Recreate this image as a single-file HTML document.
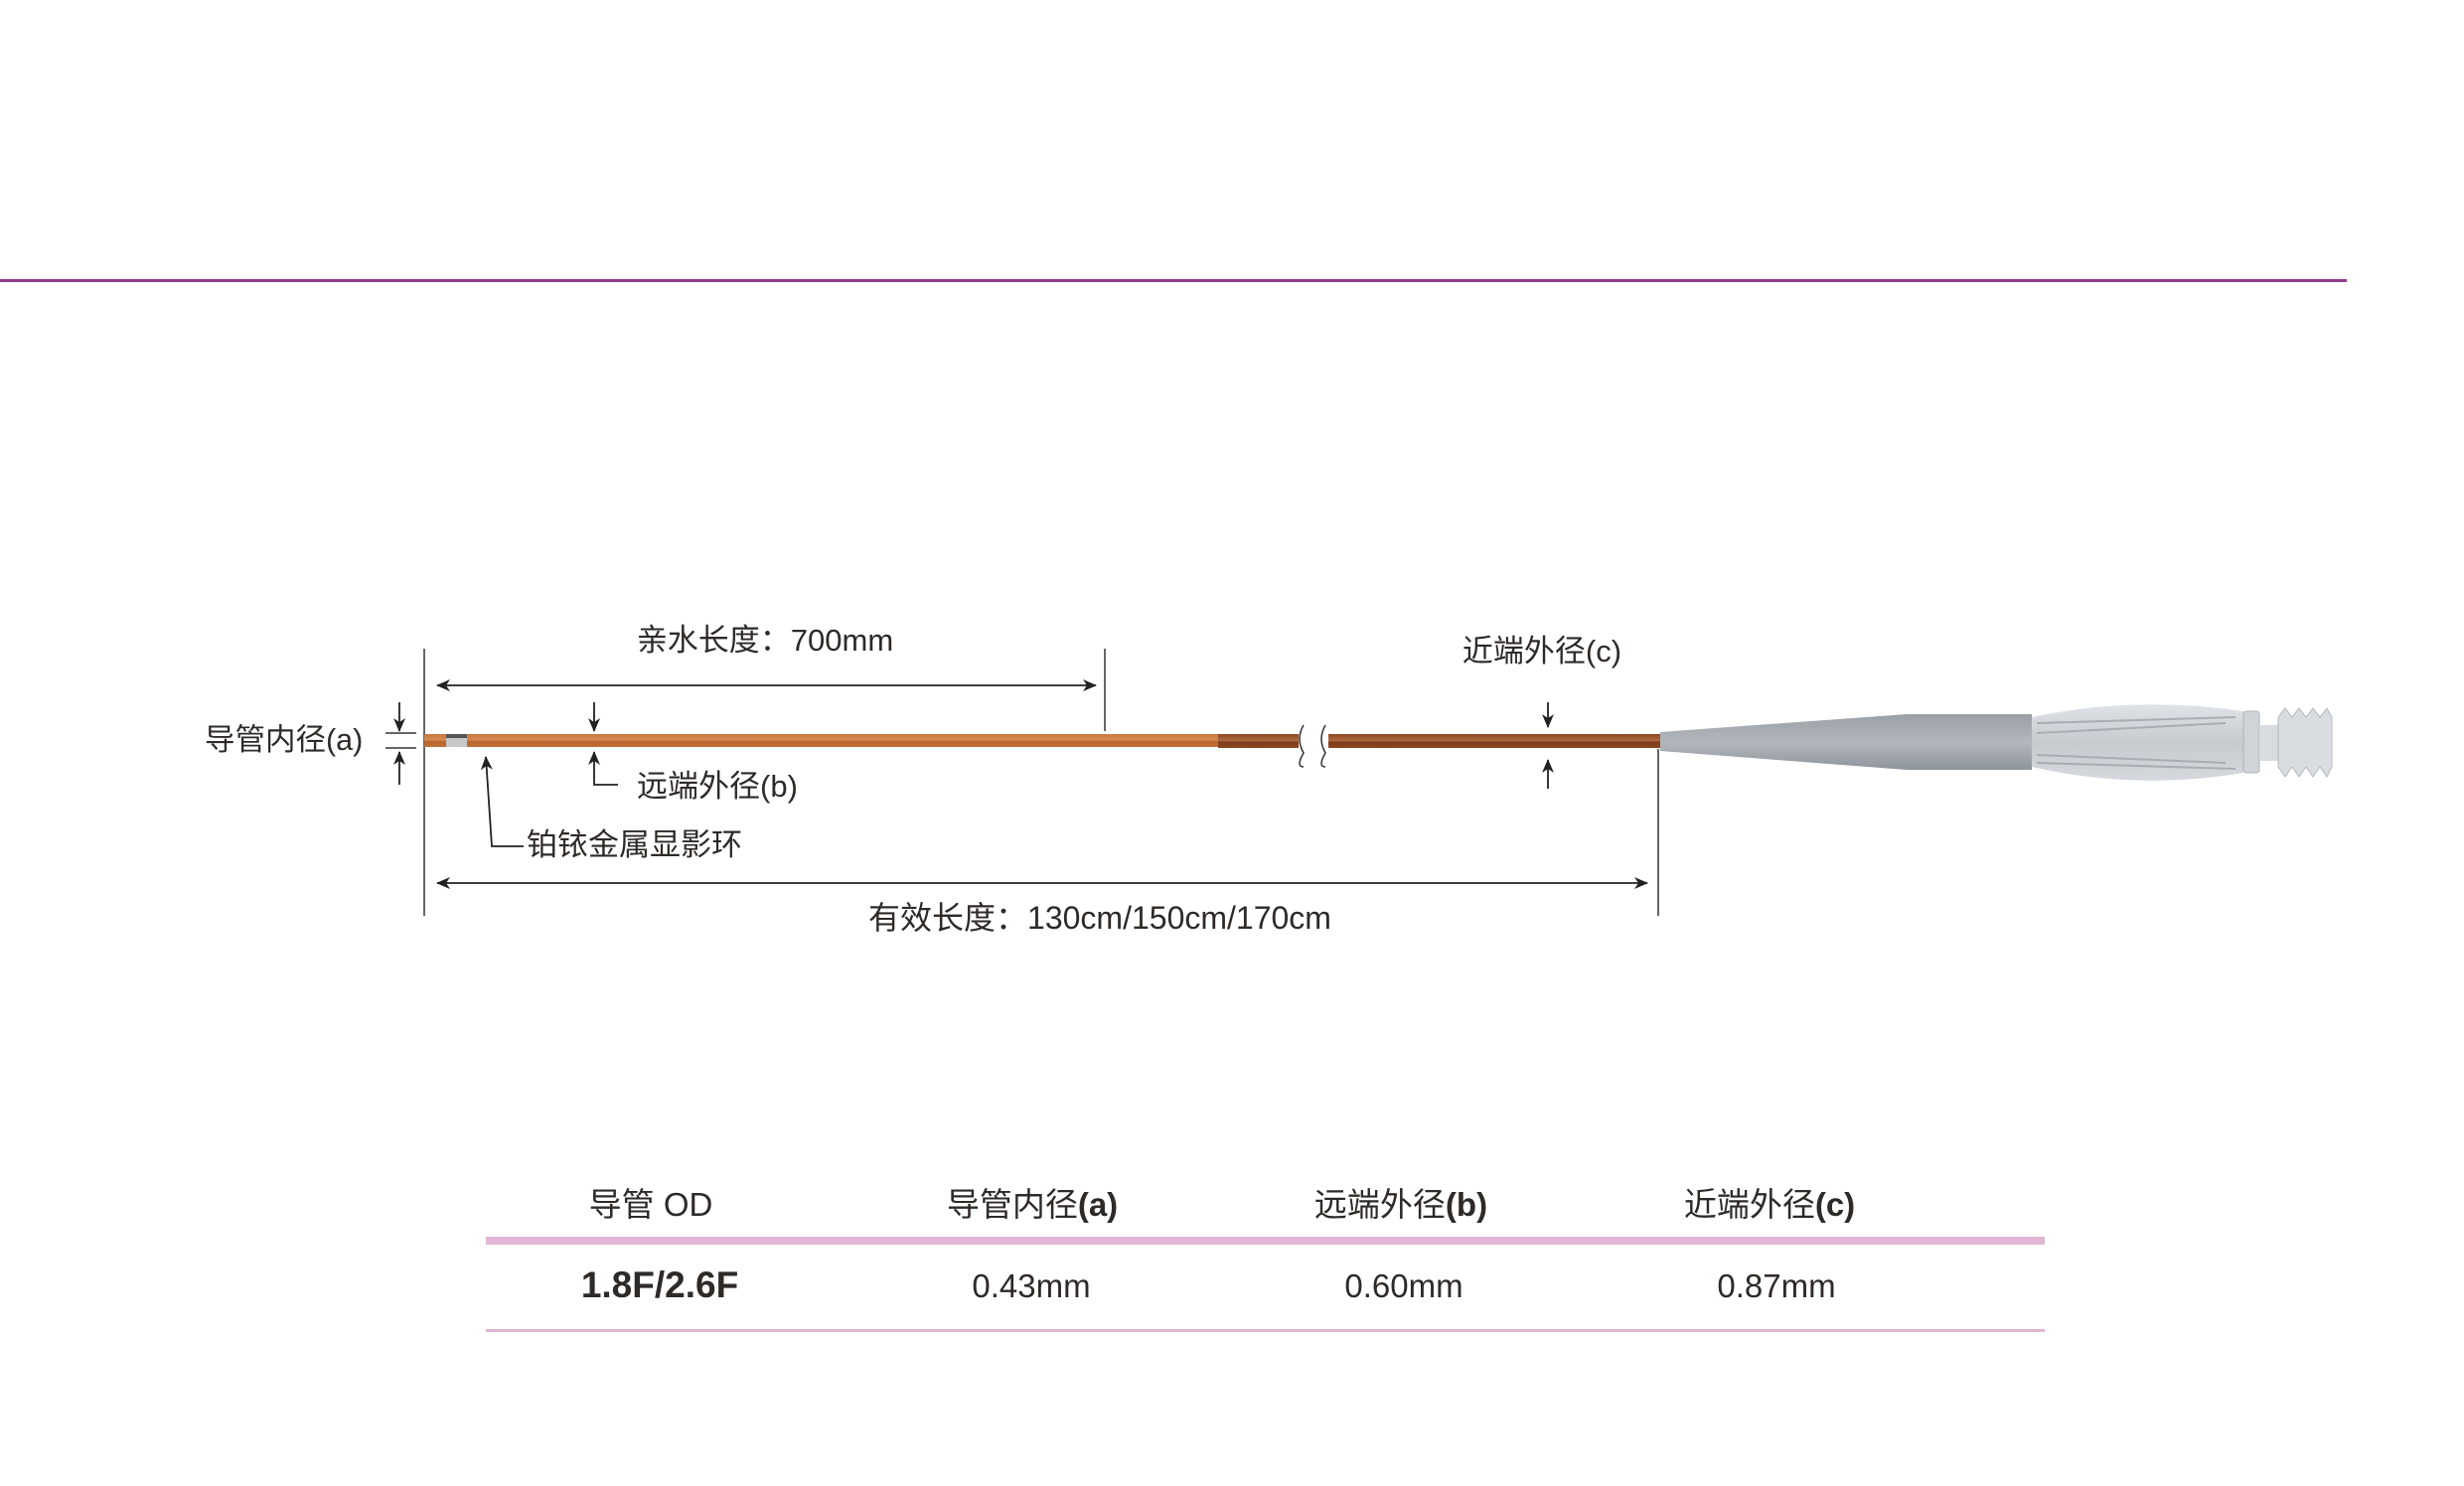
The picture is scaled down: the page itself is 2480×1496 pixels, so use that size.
<!DOCTYPE html>
<html><head><meta charset="utf-8"><style>
html,body{margin:0;padding:0;background:#fff;}
svg{display:block}
text{font-family:"Liberation Sans","Noto Sans CJK SC",sans-serif;fill:#2e2a28;}
</style></head><body>
<svg width="2480" height="1496" viewBox="0 0 2480 1496" xmlns="http://www.w3.org/2000/svg">
<defs>
<linearGradient id="tubeA" x1="0" y1="0" x2="0" y2="1">
<stop offset="0" stop-color="#c9783e"/><stop offset="0.45" stop-color="#d38a52"/><stop offset="0.6" stop-color="#b8652e"/><stop offset="1" stop-color="#c27038"/></linearGradient>
<linearGradient id="tubeB" x1="0" y1="0" x2="0" y2="1">
<stop offset="0" stop-color="#8a4622"/><stop offset="0.45" stop-color="#b06a40"/><stop offset="0.6" stop-color="#7e3d1c"/><stop offset="1" stop-color="#8a4622"/></linearGradient>
<linearGradient id="hub" x1="0" y1="0" x2="0" y2="1">
<stop offset="0" stop-color="#9a9fa6"/><stop offset="0.5" stop-color="#b3b8be"/><stop offset="1" stop-color="#8e949b"/></linearGradient>
<linearGradient id="wing" x1="0" y1="0" x2="0" y2="1">
<stop offset="0" stop-color="#dfe2e6"/><stop offset="0.5" stop-color="#c7cbd0"/><stop offset="1" stop-color="#d5d8dc"/></linearGradient>
<marker id="ah" markerWidth="14" markerHeight="14" refX="13" refY="6" orient="auto-start-reverse" markerUnits="userSpaceOnUse">
<path d="M0,0 L14,6 L0,12 L4,6 Z" fill="#222"/></marker>
</defs>

<rect x="0" y="281" width="2362" height="3" fill="#8e3a8c"/>

<g stroke="#333" stroke-width="1.5" fill="none">
<line x1="427" y1="653" x2="427" y2="922"/>
<line x1="1112" y1="653" x2="1112" y2="736"/>
<line x1="1669" y1="754" x2="1669" y2="922"/>
<line x1="388" y1="738" x2="419" y2="738"/>
<line x1="388" y1="753" x2="419" y2="753"/>
</g>

<rect x="427" y="739" width="800" height="13" fill="url(#tubeA)"/>
<rect x="1226" y="739" width="445" height="14" fill="url(#tubeB)"/>
<rect x="449" y="739" width="21" height="13" fill="#c8c8c8"/>
<rect x="449" y="739" width="21" height="4" fill="#555"/>
<rect x="1307" y="732" width="30" height="28" fill="#fff"/>
<path d="M1312,730 q-8,14 0,28 q-8,14 0,14" stroke="#333" stroke-width="1.5" fill="none"/>
<path d="M1334,730 q-8,14 0,28 q-8,14 0,14" stroke="#333" stroke-width="1.5" fill="none"/>

<path d="M1671,737 L1919,719 L2045,719 L2045,775 L1919,775 L1671,756 Z" fill="url(#hub)"/>
<path d="M2045,722 Q2150,700 2258,716 L2258,778 Q2150,796 2045,772 Z" fill="url(#wing)"/>
<path d="M2050,728 L2250,722 M2050,738 L2240,728 M2050,760 L2240,768 M2050,768 L2250,774" stroke="#a8adb3" stroke-width="2" fill="none"/>
<rect x="2258" y="716" width="16" height="62" rx="3" fill="#d0d3d7" stroke="#b0b4b9"/>
<rect x="2274" y="730" width="20" height="36" fill="#d8dbdf"/>
<path d="M2293,722 L2300,713 L2307,722 L2314,713 L2321,722 L2328,713 L2335,722 L2342,713 L2347,722 L2347,772 L2342,782 L2335,772 L2328,782 L2321,772 L2314,782 L2307,772 L2300,782 L2293,772 Z" fill="#d9dce0" stroke="#b5b9be"/>

<g stroke="#222" stroke-width="1.8" fill="none">
<line x1="440" y1="690" x2="1103" y2="690" marker-end="url(#ah)" marker-start="url(#ah)"/>
<line x1="440" y1="889" x2="1658" y2="889" marker-end="url(#ah)" marker-start="url(#ah)"/>
<line x1="402" y1="707" x2="402" y2="736" marker-end="url(#ah)"/>
<line x1="402" y1="790" x2="402" y2="757" marker-end="url(#ah)"/>
<line x1="598" y1="707" x2="598" y2="736" marker-end="url(#ah)"/>
<polyline points="622,790 598,790 598,757" marker-end="url(#ah)"/>
<polyline points="527,852 495,852 489,762" marker-end="url(#ah)"/>
<line x1="1558" y1="707" x2="1558" y2="732" marker-end="url(#ah)"/>
<line x1="1558" y1="794" x2="1558" y2="765" marker-end="url(#ah)"/>
</g>

<g font-size="31">
<text x="770" y="655" text-anchor="middle">亲水长度：700mm</text>
<text x="1552" y="666" text-anchor="middle">近端外径(c)</text>
<text x="206" y="755" font-size="30.5">导管内径(a)</text>
<text x="641" y="802">远端外径(b)</text>
<text x="530" y="861">铂铱金属显影环</text>
<text x="1107" y="935" text-anchor="middle" font-size="32">有效长度：130cm/150cm/170cm</text>
</g>

<g font-size="33" text-anchor="middle">
<text x="655" y="1224">导管 OD</text>
<text x="1039" y="1224">导管内径<tspan font-weight="bold">(a)</tspan></text>
<text x="1410" y="1224">远端外径<tspan font-weight="bold">(b)</tspan></text>
<text x="1781" y="1224">近端外径<tspan font-weight="bold">(c)</tspan></text>
<text x="664" y="1306" font-weight="bold" font-size="37">1.8F/2.6F</text>
<text x="1038" y="1306">0.43mm</text>
<text x="1413" y="1306">0.60mm</text>
<text x="1788" y="1306">0.87mm</text>
</g>
<rect x="489" y="1245" width="1569" height="8" fill="#e0b6d4"/>
<rect x="489" y="1338" width="1569" height="3" fill="#e0b6d4"/>
</svg>
</body></html>
